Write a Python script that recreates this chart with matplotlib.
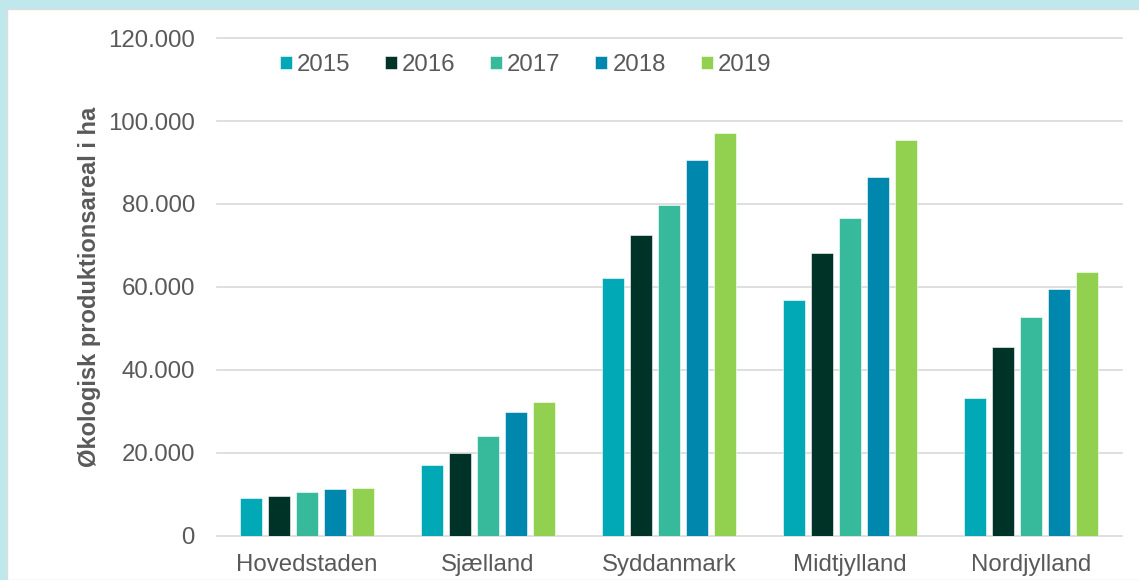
import matplotlib.pyplot as plt
import matplotlib.patches as mpatches
import numpy as np

plt.rcParams['font.family'] = ['Liberation Sans', 'DejaVu Sans']

regions = ["Hovedstaden", "Sjælland", "Syddanmark", "Midtjylland", "Nordjylland"]
years = ["2015", "2016", "2017", "2018", "2019"]
# økologisk produktionsareal i ha, per år
v2015 = [9000, 17000, 62100, 56800, 33100]
v2016 = [9500, 20000, 72500, 68200, 45400]
v2017 = [10600, 24000, 79800, 76500, 52800]
v2018 = [11200, 29900, 90600, 86600, 59600]
v2019 = [11500, 32200, 97100, 95500, 63700]
series = [v2015, v2016, v2017, v2018, v2019]
colors = ["#00A9B5", "#003327", "#36BA9B", "#0087AE", "#92D050"]
yticks = [0, 20000, 40000, 60000, 80000, 100000, 120000]

txt = "#595959"
fs = 17.3
W, H = 1139, 580
fig = plt.figure(figsize=(W / 100, H / 100), dpi=100)
fig.patch.set_facecolor("#C0E8EC")
# white panel inside the cyan frame
fig.patches.append(mpatches.Rectangle((7 / W, 0), 1, (H - 9) / H, transform=fig.transFigure,
                                      facecolor="white", edgecolor="#DDDDDD", lw=1, zorder=-10))

ax = fig.add_axes([216.5 / W, 44.5 / H, 905 / W, 497.3 / H])
ax.set_facecolor("none")

x = np.arange(len(regions))
step = 0.1535
for i, (vals, c, yr) in enumerate(zip(series, colors, years)):
    ax.bar(x + (i - 2) * step, vals, width=0.1215, color=c, edgecolor="white", linewidth=0.4,
           label=yr, zorder=3)

ax.set_xlim(-0.5, 4.5)
ax.set_ylim(0, 120000)
ax.set_yticks(yticks)
ax.set_yticklabels([f"{v:,}".replace(",", ".") for v in yticks])
ax.set_xticks(x)
ax.set_xticklabels(regions)
ax.tick_params(axis="both", length=0, labelsize=fs, labelcolor=txt)
ax.tick_params(axis="y", pad=15.5)
ax.tick_params(axis="x", pad=13)
ax.grid(axis="y", color="#D9D9D9", lw=1.2, zorder=0)
for gl in ax.get_ygridlines():
    gl.set_clip_on(False)
for s in ax.spines.values():
    s.set_visible(False)

ax.set_ylabel("Økologisk produktionsareal i ha", fontsize=17, fontweight="bold", color=txt, labelpad=5)

ax.legend(loc="center left", bbox_to_anchor=(280 / W, 1 - 65 / H), bbox_transform=fig.transFigure,
          ncol=5, frameon=False, fontsize=fs, labelcolor=txt, handlelength=0.5, handleheight=0.48,
          handletextpad=0.2, columnspacing=1.45, borderaxespad=0, borderpad=0)

fig.savefig("out.png", dpi=100, facecolor=fig.get_facecolor())
